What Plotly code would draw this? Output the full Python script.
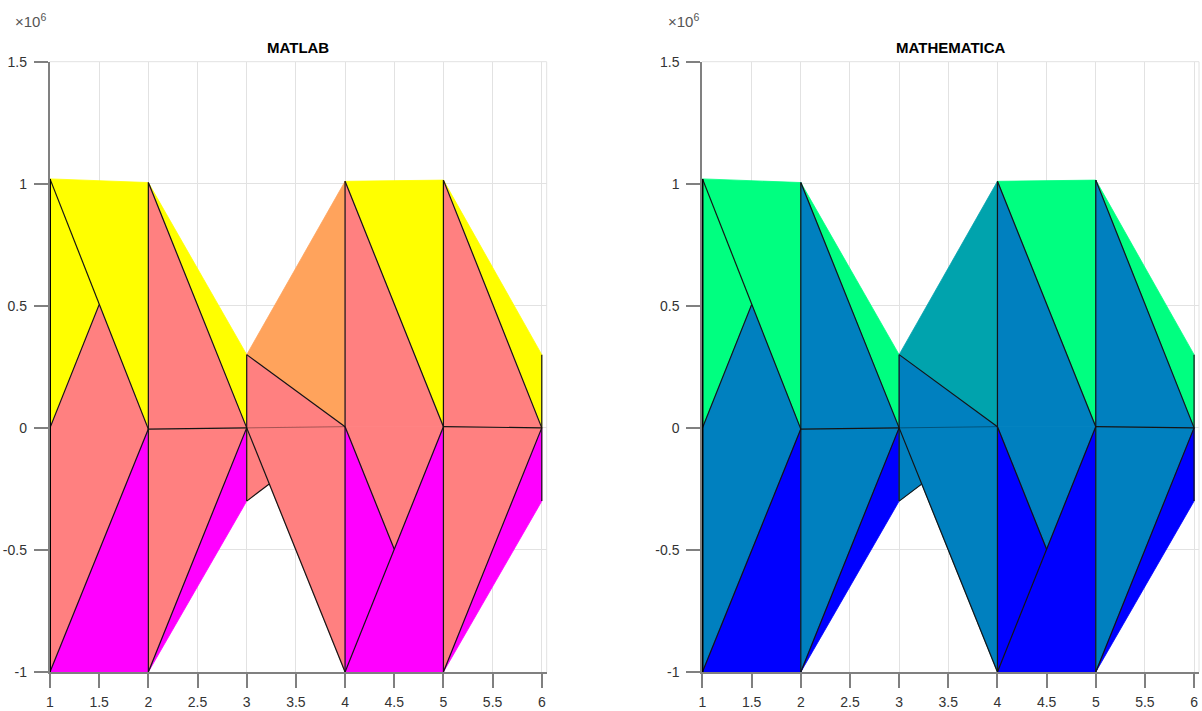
import plotly.graph_objects as go

# ---------------- data ----------------
node_x = [1, 2, 3, 4, 5, 6,
          1, 2, 3, 4, 5, 6,
          1, 2, 3, 4, 5, 6,
          1.5, 4.5]
node_y = [1.02e6, 1.005e6, 0.30e6, 1.01e6, 1.015e6, 0.30e6,
          0.0, -0.005e6, 0.0, 0.005e6, 0.005e6, 0.0,
          -1.0e6, -1.0e6, -0.30e6, -1.0e6, -1.0e6, -0.30e6,
          0.505e6, -0.4975e6]

# faces (vertex indices, in draw order) and their colour values
faces = [[0, 1, 7, 6], [6, 18, 7, 12], [12, 7, 13],
         [1, 2, 8], [1, 8, 7], [7, 8, 13], [13, 8, 14],
         [2, 3, 9], [2, 9, 8], [8, 14, 9], [8, 9, 15],
         [3, 4, 10], [3, 10, 9], [9, 10, 19], [9, 15, 19], [15, 10, 16],
         [4, 5, 11], [4, 11, 10], [10, 11, 16], [16, 11, 17]]
face_c = [1.0, 0.5, 0.0,
          1.0, 0.5, 0.5, 0.0,
          0.64, 0.5, 0.5, 0.5,
          1.0, 0.5, 0.5, 0.0, 0.0,
          1.0, 0.5, 0.5, 0.0]

# edges drawn just before a given face (so that face partly hides them)
edges_before = {10: [(14, 9)]}
# edges drawn on top
edges_top = [(0, 7), (6, 18), (12, 7), (1, 13), (1, 8), (7, 8), (13, 8),
             (2, 14), (2, 9), (8, 15), (3, 15), (3, 10), (9, 19), (15, 10),
             (4, 16), (4, 11), (10, 11), (16, 11), (5, 17)]
edges_faint = [(8, 9)]
edges_thick = [(0, 12)]

x_ticks = [1, 1.5, 2, 2.5, 3, 3.5, 4, 4.5, 5, 5.5, 6]
x_ticktext = ["1", "1.5", "2", "2.5", "3", "3.5", "4", "4.5", "5", "5.5", "6"]
y_ticks = [-1e6, -0.5e6, 0, 0.5e6, 1e6, 1.5e6]
y_ticktext = ["-1", "-0.5", "0", "0.5", "1", "1.5"]

panel_titles = ["MATLAB", "MATHEMATICA"]


def spring(t):
    return "rgb(%d,%d,%d)" % (255, round(255 * t), round(255 * (1 - t)))


def winter(t):
    return "rgb(%d,%d,%d)" % (0, round(255 * t), round(255 * (1 - t / 2)))


cmaps = [spring, winter]

W, H = 1202, 711
FONT = "Liberation Sans, Arial, Helvetica, sans-serif"
fig = go.Figure()


def add_edge(a, b, ax, color="#141414", width=1.2):
    fig.add_trace(go.Scatter(x=[node_x[a], node_x[b]], y=[node_y[a], node_y[b]],
                             mode="lines", line=dict(color=color, width=width),
                             xaxis=ax[0], yaxis=ax[1], hoverinfo="skip", showlegend=False))


for p in range(2):
    ax = ("x" if p == 0 else "x2", "y" if p == 0 else "y2")
    cmap = cmaps[p]
    for i, (f, c) in enumerate(zip(faces, face_c)):
        for (a, b) in edges_before.get(i, []):
            add_edge(a, b, ax)
        xs = [node_x[k] for k in f] + [node_x[f[0]]]
        ys = [node_y[k] for k in f] + [node_y[f[0]]]
        col = cmap(c)
        fig.add_trace(go.Scatter(x=xs, y=ys, mode="lines", fill="toself", fillcolor=col,
                                 line=dict(color=col, width=0.8),
                                 xaxis=ax[0], yaxis=ax[1], hoverinfo="skip", showlegend=False))
    for (a, b) in edges_faint:
        add_edge(a, b, ax, color="rgba(0,0,0,0.35)", width=1)
    for (a, b) in edges_top:
        add_edge(a, b, ax)
    for (a, b) in edges_thick:
        add_edge(a, b, ax, color="#000000", width=2)

# ---------------- layout ----------------
doms_x = [[49.5 / W, 546.7 / W], [702.0 / W, 1199.0 / W]]
dom_y = [(H - 672.0) / H, (H - 61.7) / H]

axis_common = dict(showgrid=True, gridcolor="#e2e2e2", gridwidth=1, zeroline=False,
                   showline=True, linecolor="#808080", linewidth=1.5,
                   ticks="outside", ticklen=14, tickwidth=1.5, tickcolor="#808080",
                   tickfont=dict(family=FONT, size=14, color="#333333"),
                   automargin=False, fixedrange=True)

layout = dict(width=W, height=H, margin=dict(l=0, r=0, t=0, b=0),
              paper_bgcolor="white", plot_bgcolor="white", showlegend=False)
for p in range(2):
    xa = "xaxis" if p == 0 else "xaxis2"
    ya = "yaxis" if p == 0 else "yaxis2"
    layout[xa] = dict(axis_common, domain=doms_x[p], range=[0.995, 6.05],
                      tickmode="array", tickvals=x_ticks, ticktext=x_ticktext,
                      anchor="y" if p == 0 else "y2", ticklabelstandoff=2)
    layout[ya] = dict(axis_common, domain=dom_y, range=[-1e6, 1.5e6],
                      tickmode="array", tickvals=y_ticks, ticktext=y_ticktext,
                      anchor="x" if p == 0 else "x2", ticklabelstandoff=4)
fig.update_layout(**layout)

shapes = []
annotations = []
for p in range(2):
    xr = "x domain" if p == 0 else "x2 domain"
    yr = "y domain" if p == 0 else "y2 domain"
    shapes.append(dict(type="line", xref=xr, yref=yr, x0=1, x1=1, y0=0, y1=1,
                       line=dict(color="#e2e2e2", width=1), layer="below"))
    shapes.append(dict(type="line", xref=xr, yref=yr, x0=0, x1=1, y0=1, y1=1,
                       line=dict(color="#e2e2e2", width=1), layer="below"))
    x0 = doms_x[p][0]
    x1 = doms_x[p][1]
    annotations.append(dict(text="<b>" + panel_titles[p] + "</b>", xref="paper", yref="paper",
                            x=(x0 + x1) / 2, y=(H - 47) / H, xanchor="center", yanchor="middle",
                            showarrow=False,
                            font=dict(family=FONT, size=15, color="#000000")))
    annotations.append(dict(text="×10<sup>6</sup>", xref="paper", yref="paper",
                            x=x0 - 36 / W, y=(H - 21) / H, xanchor="left", yanchor="middle",
                            showarrow=False,
                            font=dict(family=FONT, size=15, color="#555555")))
fig.update_layout(shapes=shapes, annotations=annotations)

fig.write_html("out.html", config={"displayModeBar": False},
               post_script="document.body.style.margin='0px';document.body.style.overflow='hidden';")
